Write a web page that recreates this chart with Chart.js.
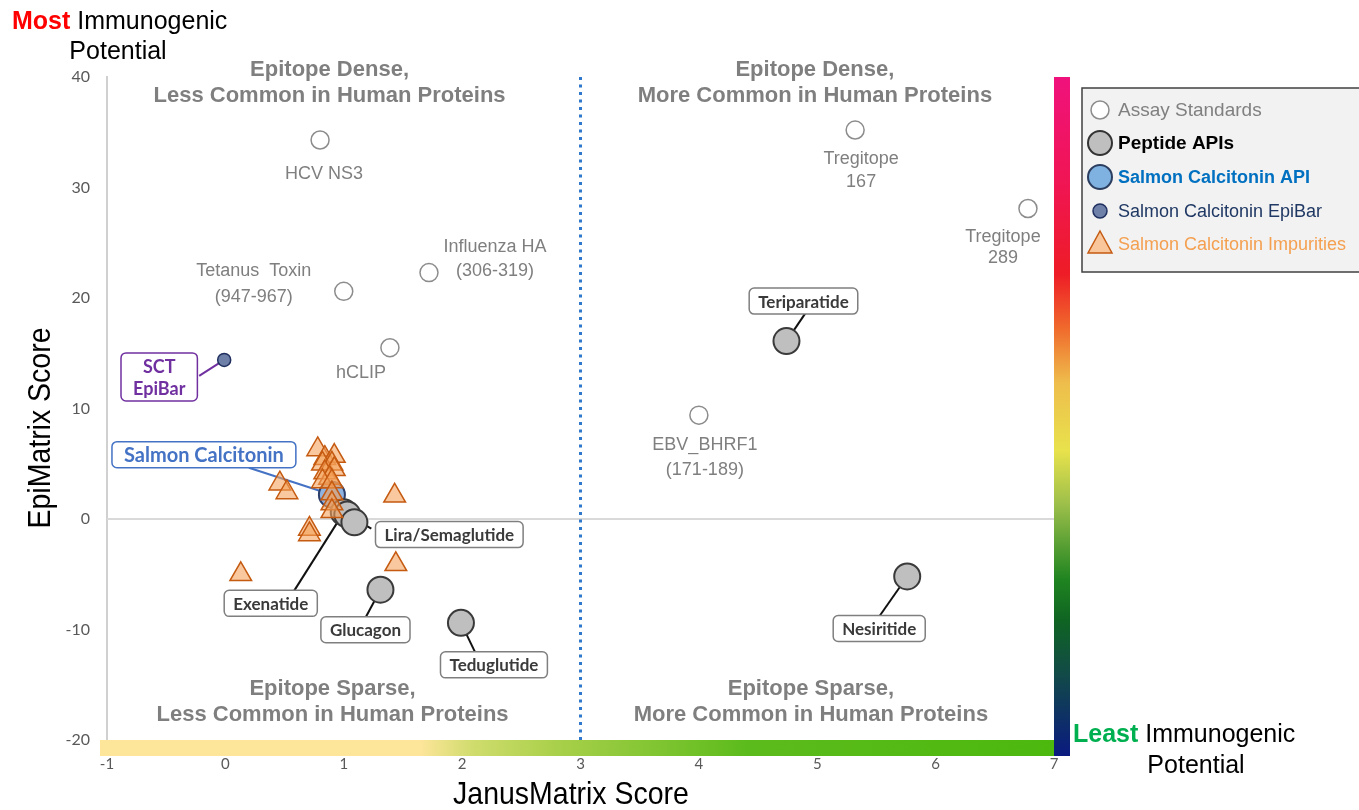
<!DOCTYPE html>
<html>
<head>
<meta charset="utf-8">
<title>EpiMatrix vs JanusMatrix</title>
<script src="https://cdn.jsdelivr.net/npm/chart.js@4.4.1/dist/chart.umd.min.js"></script>
<style>
  html, body { margin: 0; padding: 0; background: #ffffff; }
  #wrap { width: 1359px; height: 810px; position: relative; overflow: hidden; }
  canvas { display: block; }
</style>
</head>
<body>
<div id="wrap"><canvas id="chart" width="1359" height="810"></canvas></div>
<script>
// ---- Data -------------------------------------------------------------
const xTicks = [-1, 0, 1, 2, 3, 4, 5, 6, 7];
const yTicks = [-20, -10, 0, 10, 20, 30, 40];

// Assay standards
const assayNames = [['HCV NS3'], ['Tetanus  Toxin', '(947-967)'], ['Influenza HA', '(306-319)'],
                    ['hCLIP'], ['Tregitope', '167'], ['Tregitope', '289'], ['EBV_BHRF1', '(171-189)']];
const assayJanus = [0.80, 1.00, 1.72, 1.39, 5.32, 6.78, 4.00];
const assayEpi   = [34.3, 20.6, 22.3, 15.5, 35.2, 28.1, 9.4];

// Peptide APIs
const peptideNames = ['Teriparatide', 'Nesiritide', 'Glucagon', 'Teduglutide', 'Exenatide', 'Liraglutide', 'Semaglutide'];
const peptideJanus = [4.74, 5.76, 1.31, 1.99, 1.00, 1.03, 1.09];
const peptideEpi   = [16.1, -5.2, -6.4, -9.4, 0.6, 0.4, -0.3];

// Salmon calcitonin API and EpiBar
const sctJanus = [0.90];
const sctEpi   = [2.2];
const epibarJanus = [-0.01];
const epibarEpi   = [14.4];

// Salmon calcitonin impurities
const impurityJanus = [0.78, 0.84, 0.92, 0.82, 0.90, 0.92, 0.84, 0.88, 0.82, 0.90,
                       0.90, 0.90, 0.90, 0.46, 0.52, 1.43, 0.71, 0.71, 0.13, 1.44];
const impurityEpi   = [6.3, 5.5, 5.7, 5.0, 5.0, 4.5, 4.2, 3.7, 3.4, 3.4,
                       2.3, 1.4, 0.7, 3.2, 2.4, 2.1, -0.9, -1.4, -5.0, -4.1];

const toPoints = (xs, ys) => xs.map((v, i) => ({ x: v, y: ys[i] }));

// ---- Annotation layout (pixel offsets from the marker) -----------------
// Plain grey captions for the assay standards: [dx, dy of first line]
const assayLabelOffset = [[4, 34], [-90, -20], [66, -26], [-29, 25], [6, 29], [-25, 29], [6, 30]];
const assayLineGap = [0, 26, 24, 0, 23, 21, 25];

// Boxed callouts: index into its series, box centre offset, leader start offset from box centre
const calloutStyle = {
  peptide: { border: '#7f7f7f', text: '#3a3a3a', line: '#111111', font: 'bold 17px Lato', pad: 18 },
  sct:     { border: '#4472c4', text: '#4472c4', line: '#4472c4', font: 'bold 20px Lato', pad: 24 },
  epibar:  { border: '#7030a0', text: '#7030a0', line: '#7030a0', font: 'bold 18px Lato', pad: 24 }
};
const callouts = [
  { series: 'peptide', idx: 0, lines: ['Teriparatide'],     box: [17, -40],  from: [2, 12] },
  { series: 'peptide', idx: 1, lines: ['Nesiritide'],       box: [-28, 52],  from: [0, -12] },
  { series: 'peptide', idx: 2, lines: ['Glucagon'],         box: [-15, 40],  from: [0, -12] },
  { series: 'peptide', idx: 3, lines: ['Teduglutide'],      box: [33, 42],   from: [-19, -13] },
  { series: 'peptide', idx: 4, lines: ['Exenatide'],        box: [-73, 91],  from: [23, -12] },
  { series: 'peptide', idx: 5, lines: ['Lira/Semaglutide'], box: [102, 20],  from: [-78, -6] },
  { series: 'sct',     idx: 0, lines: ['Salmon Calcitonin'],box: [-128, -40],from: [45, 13] },
  { series: 'epibar',  idx: 0, lines: ['SCT', 'EpiBar'],    box: [-65, 17],  from: [40, -1] }
];

// ---- Drawing helpers ---------------------------------------------------
function roundRect(ctx, x, y, w, h, r) {
  ctx.beginPath();
  ctx.moveTo(x + r, y);
  ctx.lineTo(x + w - r, y);
  ctx.arcTo(x + w, y, x + w, y + r, r);
  ctx.lineTo(x + w, y + h - r);
  ctx.arcTo(x + w, y + h, x + w - r, y + h, r);
  ctx.lineTo(x + r, y + h);
  ctx.arcTo(x, y + h, x, y + h - r, r);
  ctx.lineTo(x, y + r);
  ctx.arcTo(x, y, x + r, y, r);
  ctx.closePath();
}

function seriesPoint(chart, series, idx) {
  const map = { peptide: [peptideJanus, peptideEpi], sct: [sctJanus, sctEpi], epibar: [epibarJanus, epibarEpi] };
  const [xs, ys] = map[series];
  return [chart.scales.x.getPixelForValue(xs[idx]), chart.scales.y.getPixelForValue(ys[idx])];
}

function calloutBox(ctx, c, px, py) {
  const st = calloutStyle[c.series];
  ctx.font = st.font;
  const lh = 22;
  const w = Math.max(...c.lines.map(t => ctx.measureText(t).width)) + st.pad;
  const h = c.lines.length * lh + 4;
  const cx = px + c.box[0], cy = py + c.box[1];
  return { st, w, h, cx, cy, lh };
}

// condensed text (narrow sans look) drawn by squeezing the regular face
function narrowText(ctx, text, x, y, squeeze) {
  ctx.save();
  ctx.translate(x, y);
  ctx.scale(squeeze, 1);
  ctx.fillText(text, 0, 0);
  ctx.restore();
}

const decor = {
  id: 'decor',
  beforeDatasetsDraw(chart) {
    const { ctx, chartArea: a, scales: { x, y } } = chart;
    ctx.save();

    // colour band under the x axis
    const hb = ctx.createLinearGradient(a.left, 0, a.right, 0);
    const fx = v => (x.getPixelForValue(v) - a.left) / (a.right - a.left);
    hb.addColorStop(0, '#fde59a');
    hb.addColorStop(fx(1.65), '#fde59a');
    hb.addColorStop(fx(2.1), '#cfdc6c');
    hb.addColorStop(fx(2.8), '#a9d04a');
    hb.addColorStop(fx(4.4), '#5cbb1c');
    hb.addColorStop(1, '#4cb80e');
    ctx.fillStyle = hb;
    ctx.fillRect(a.left - 7, a.bottom, a.right - a.left + 7, 16);

    // immunogenic potential band at the right edge
    const vb = ctx.createLinearGradient(0, a.top, 0, a.bottom + 16);
    vb.addColorStop(0.00, '#f0127c');
    vb.addColorStop(0.16, '#f01552');
    vb.addColorStop(0.29, '#ee1c26');
    vb.addColorStop(0.37, '#f06a2c');
    vb.addColorStop(0.45, '#eebd4c');
    vb.addColorStop(0.55, '#e8e24c');
    vb.addColorStop(0.63, '#9cbf4a');
    vb.addColorStop(0.74, '#1f8420');
    vb.addColorStop(0.80, '#0f6422');
    vb.addColorStop(0.88, '#124a48');
    vb.addColorStop(1.00, '#0a1a80');
    ctx.fillStyle = vb;
    ctx.fillRect(a.right, a.top, 16, a.bottom + 16 - a.top);

    // zero line
    const y0 = y.getPixelForValue(0);
    ctx.strokeStyle = '#d9d9d9';
    ctx.lineWidth = 2;
    ctx.beginPath();
    ctx.moveTo(a.left, y0);
    ctx.lineTo(a.right, y0);
    ctx.stroke();

    // dotted divider at JanusMatrix = 3
    const x3 = x.getPixelForValue(3);
    ctx.strokeStyle = '#2f78cc';
    ctx.lineWidth = 3;
    ctx.setLineDash([3, 4.5]);
    ctx.beginPath();
    ctx.moveTo(x3, a.top);
    ctx.lineTo(x3, a.bottom);
    ctx.stroke();
    ctx.setLineDash([]);

    // quadrant captions
    ctx.fillStyle = '#7f7f7f';
    ctx.font = 'bold 22px "Liberation Sans", Arial, sans-serif';
    ctx.textAlign = 'center';
    ctx.textBaseline = 'middle';
    const qL = x.getPixelForValue(0.88), qR = x.getPixelForValue(4.98);
    ctx.fillText('Epitope Dense,', qL, 70);
    ctx.fillText('Less Common in Human Proteins', qL, 96);
    ctx.fillText('Epitope Dense,', qR, 70);
    ctx.fillText('More Common in Human Proteins', qR, 96);
    ctx.fillText('Epitope Sparse,', qL + 3, 689);
    ctx.fillText('Less Common in Human Proteins', qL + 3, 715);
    ctx.fillText('Epitope Sparse,', qR - 4, 689);
    ctx.fillText('More Common in Human Proteins', qR - 4, 715);

    // leader lines from callouts to markers
    callouts.forEach(c => {
      const [px, py] = seriesPoint(chart, c.series, c.idx);
      const b = calloutBox(ctx, c, px, py);
      ctx.strokeStyle = b.st.line;
      ctx.lineWidth = 2;
      ctx.beginPath();
      ctx.moveTo(b.cx + c.from[0], b.cy + c.from[1]);
      ctx.lineTo(px, py);
      ctx.stroke();
    });
    ctx.restore();
  },

  afterDatasetsDraw(chart) {
    const { ctx, scales: { x, y } } = chart;
    ctx.save();
    ctx.textAlign = 'center';
    ctx.textBaseline = 'middle';

    // assay standard captions
    ctx.fillStyle = '#7f7f7f';
    ctx.font = '18px "Liberation Sans", Arial, sans-serif';
    assayNames.forEach((lines, i) => {
      const px = x.getPixelForValue(assayJanus[i]);
      const py = y.getPixelForValue(assayEpi[i]);
      lines.forEach((t, k) => ctx.fillText(t, px + assayLabelOffset[i][0], py + assayLabelOffset[i][1] + k * assayLineGap[i]));
    });

    // boxed callouts
    callouts.forEach(c => {
      const [px, py] = seriesPoint(chart, c.series, c.idx);
      const b = calloutBox(ctx, c, px, py);
      roundRect(ctx, b.cx - b.w / 2, b.cy - b.h / 2, b.w, b.h, 5);
      ctx.fillStyle = '#ffffff';
      ctx.fill();
      ctx.strokeStyle = b.st.border;
      ctx.lineWidth = 1.5;
      ctx.stroke();
      ctx.fillStyle = b.st.text;
      ctx.font = b.st.font;
      c.lines.forEach((t, k) => ctx.fillText(t, b.cx, b.cy - (c.lines.length - 1) * b.lh / 2 + k * b.lh + 1));
    });
    ctx.restore();
  },

  afterDraw(chart) {
    const { ctx } = chart;
    ctx.save();
    ctx.textBaseline = 'middle';

    // axis titles
    ctx.fillStyle = '#000000';
    ctx.font = '32px "Liberation Sans", Arial, sans-serif';
    ctx.textAlign = 'center';
    narrowText(ctx, 'JanusMatrix Score', 571, 795, 0.89);
    ctx.save();
    ctx.translate(41, 428);
    ctx.rotate(-Math.PI / 2);
    narrowText(ctx, 'EpiMatrix Score', 0, 0, 0.89);
    ctx.restore();

    // "Most Immunogenic Potential"
    ctx.textAlign = 'left';
    ctx.font = 'bold 25px "Liberation Sans", Arial, sans-serif';
    ctx.fillStyle = '#ff0000';
    ctx.fillText('Most', 12, 22);
    const wMost = ctx.measureText('Most ').width;
    ctx.font = '25px "Liberation Sans", Arial, sans-serif';
    ctx.fillStyle = '#000000';
    ctx.fillText('Immunogenic', 12 + wMost, 22);
    ctx.textAlign = 'center';
    ctx.fillText('Potential', 118, 52);

    // "Least Immunogenic Potential"
    ctx.textAlign = 'left';
    ctx.font = 'bold 25px "Liberation Sans", Arial, sans-serif';
    ctx.fillStyle = '#00b050';
    ctx.fillText('Least', 1073, 735);
    const wLeast = ctx.measureText('Least ').width;
    ctx.font = '25px "Liberation Sans", Arial, sans-serif';
    ctx.fillStyle = '#000000';
    ctx.fillText('Immunogenic', 1073 + wLeast, 735);
    ctx.textAlign = 'center';
    ctx.fillText('Potential', 1196, 766);

    // legend panel
    ctx.fillStyle = '#f2f2f2';
    ctx.fillRect(1082, 88, 290, 184);
    ctx.strokeStyle = '#404040';
    ctx.lineWidth = 1.5;
    ctx.strokeRect(1082, 88, 290, 184);

    const items = [
      { y: 110, label: 'Assay Standards', color: '#808080', font: '19px "Liberation Sans", Arial, sans-serif', draw: (cx, cy) => { ctx.beginPath(); ctx.arc(cx, cy, 9, 0, Math.PI * 2); ctx.fillStyle = '#fff'; ctx.fill(); ctx.strokeStyle = '#8c8c8c'; ctx.lineWidth = 1.5; ctx.stroke(); } },
      { y: 143, label: 'Peptide APIs', color: '#000000', font: 'bold 19px "Liberation Sans", Arial, sans-serif', draw: (cx, cy) => { ctx.beginPath(); ctx.arc(cx, cy, 12, 0, Math.PI * 2); ctx.fillStyle = '#bfbfbf'; ctx.fill(); ctx.strokeStyle = '#333'; ctx.lineWidth = 2; ctx.stroke(); } },
      { y: 177, label: 'Salmon Calcitonin API', color: '#0070c0', font: 'bold 18px "Liberation Sans", Arial, sans-serif', draw: (cx, cy) => { ctx.beginPath(); ctx.arc(cx, cy, 12, 0, Math.PI * 2); ctx.fillStyle = '#7fb2e0'; ctx.fill(); ctx.strokeStyle = '#2c3e60'; ctx.lineWidth = 2; ctx.stroke(); } },
      { y: 211, label: 'Salmon Calcitonin EpiBar', color: '#1f3864', font: '18px "Liberation Sans", Arial, sans-serif', draw: (cx, cy) => { ctx.beginPath(); ctx.arc(cx, cy, 7, 0, Math.PI * 2); ctx.fillStyle = '#6e7fa8'; ctx.fill(); ctx.strokeStyle = '#1f2f5f'; ctx.lineWidth = 1.5; ctx.stroke(); } },
      { y: 244, label: 'Salmon Calcitonin Impurities', color: '#f4a050', font: '18px "Liberation Sans", Arial, sans-serif', draw: (cx, cy) => { ctx.beginPath(); ctx.moveTo(cx, cy - 13); ctx.lineTo(cx + 12, cy + 9); ctx.lineTo(cx - 12, cy + 9); ctx.closePath(); ctx.fillStyle = '#f8c69a'; ctx.fill(); ctx.strokeStyle = '#c55a11'; ctx.lineWidth = 1.5; ctx.stroke(); } }
    ];
    items.forEach(it => {
      it.draw(1100, it.y);
      ctx.textAlign = 'left';
      ctx.fillStyle = it.color;
      ctx.font = it.font;
      ctx.fillText(it.label, 1118, it.y + 1);
    });
    ctx.restore();
  }
};

// ---- Chart ---------------------------------------------------------------
new Chart(document.getElementById('chart'), {
  type: 'scatter',
  data: {
    datasets: [
      {
        label: 'Salmon Calcitonin Impurities',
        data: toPoints(impurityJanus, impurityEpi),
        pointStyle: 'triangle',
        pointRadius: 12.5,
        backgroundColor: 'rgba(244, 160, 88, 0.58)',
        borderColor: '#c55a11',
        borderWidth: 1.5,
        order: 1
      },
      {
        label: 'Peptide APIs',
        data: toPoints(peptideJanus, peptideEpi),
        pointStyle: 'circle',
        pointRadius: 13,
        backgroundColor: '#bfbfbf',
        borderColor: '#3a3a3a',
        borderWidth: 2,
        order: 2
      },
      {
        label: 'Salmon Calcitonin API',
        data: toPoints(sctJanus, sctEpi),
        pointStyle: 'circle',
        pointRadius: 13,
        backgroundColor: '#8fb3e0',
        borderColor: '#2c3e6a',
        borderWidth: 2,
        order: 3
      },
      {
        label: 'Salmon Calcitonin EpiBar',
        data: toPoints(epibarJanus, epibarEpi),
        pointStyle: 'circle',
        pointRadius: 6.5,
        backgroundColor: '#6e7fa8',
        borderColor: '#1f2f5f',
        borderWidth: 1.5,
        order: 4
      },
      {
        label: 'Assay Standards',
        data: toPoints(assayJanus, assayEpi),
        pointStyle: 'circle',
        pointRadius: 9,
        backgroundColor: '#ffffff',
        borderColor: '#8c8c8c',
        borderWidth: 1.5,
        order: 5
      }
    ]
  },
  options: {
    responsive: false,
    animation: false,
    events: [],
    layout: { padding: { top: 77, right: 305, bottom: 0, left: 0 } },
    plugins: { legend: { display: false }, tooltip: { enabled: false } },
    scales: {
      x: {
        type: 'linear',
        min: -1, max: 7,
        afterBuildTicks: s => { s.ticks = xTicks.map(v => ({ value: v })); },
        afterFit: s => { s.height = 70; },
        grid: { display: false, drawTicks: false },
        border: { display: false },
        ticks: { padding: 15, color: '#595959', font: { family: 'Lato', size: 15 } }
      },
      y: {
        type: 'linear',
        min: -20, max: 40,
        afterBuildTicks: s => { s.ticks = yTicks.map(v => ({ value: v })); },
        afterFit: s => { s.width = 107; },
        grid: { display: false, drawTicks: false },
        border: { display: true, color: '#d0d0d0', width: 2 },
        ticks: { padding: 17, color: '#595959', font: { family: 'Lato', size: 16 } }
      }
    }
  },
  plugins: [decor]
});
</script>
</body>
</html>
